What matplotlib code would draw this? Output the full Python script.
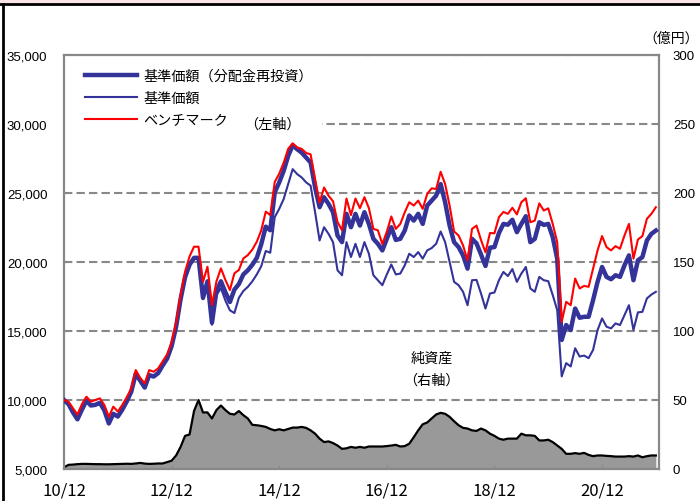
import matplotlib
matplotlib.use("Agg")
import matplotlib.pyplot as plt
from matplotlib.lines import Line2D
from matplotlib.patches import Rectangle
import numpy as np

plt.rcParams['font.family'] = ['Liberation Sans', 'Noto Sans CJK JP']

# monthly data, 2010/12 - 2021/12
xtick_pos = [0, 24, 48, 72, 96, 120]
xtick_labels = ['10/12', '12/12', '14/12', '16/12', '18/12', '20/12']

nav_reinvest = [
    10000, 9700, 9100, 8600, 9300, 9950, 9600, 9650, 9800, 9250,
    8300, 9000, 8800, 9300, 9900, 10600, 11900, 11400, 10900, 11800,
    11700, 11950, 12500, 13000, 13900, 15300, 17300, 18900, 19800, 20300,
    20300, 17400, 18600, 15600, 17900, 18600, 17800, 17100, 18000, 18400,
    19100, 19400, 19800, 20300, 21300, 22560, 22300, 25050, 25770, 26610,
    27690, 28460, 28170, 27930, 27570, 27210, 25410, 23970, 24690, 24210,
    23610, 21920, 21440, 23490, 22520, 23490, 22640, 23610, 22760, 21680,
    21320, 20840, 21680, 22520, 21600, 21680, 22280, 23370, 23000, 23490,
    22760, 24090, 24450, 24810, 25650, 24330, 22640, 21440, 21080, 20480,
    19520, 21680, 21350, 20550, 19710, 21040, 21080, 22100, 22760, 22700,
    23060, 22160, 22760, 23320, 21440, 21680, 22880, 22690, 22760, 21800,
    20240, 14350, 15430, 15070, 16630, 15960, 16030, 16030, 17240, 18560,
    19640, 18920, 18750, 19040, 18920, 19760, 20480, 18680, 20120, 20360,
    21560, 22040, 22280,
]

nav = [
    10000, 9700, 9100, 8600, 9300, 9950, 9600, 9650, 9800, 9250,
    8300, 9000, 8800, 9300, 9900, 10600, 11900, 11400, 10900, 11800,
    11700, 11950, 12500, 13000, 13900, 15300, 17300, 18900, 19800, 20250,
    20200, 17300, 18450, 15450, 17600, 18100, 17200, 16500, 16300, 17400,
    17900, 18200, 18600, 19100, 19700, 20800, 20670, 23250, 23850, 24570,
    25650, 26730, 26370, 26130, 25770, 25530, 23610, 21560, 22520, 22040,
    21440, 19400, 19040, 21440, 20360, 21320, 20360, 21440, 20600, 19040,
    18680, 18320, 19100, 19820, 19100, 19160, 19760, 20600, 20360, 20720,
    20240, 20840, 21010, 21320, 22210, 21440, 20000, 18560, 18320, 17840,
    16870, 18680, 18700, 17720, 16630, 17720, 17790, 18680, 19280, 18980,
    19490, 18560, 19160, 19640, 18080, 17840, 18920, 18680, 18610, 17600,
    16510, 11710, 12670, 12430, 13750, 13150, 13220, 13030, 13630, 15070,
    15910, 15310, 15190, 15550, 15430, 16150, 16870, 15070, 16350, 16390,
    17360, 17640, 17840,
]

benchmark = [
    10000, 9880, 9400, 8950, 9700, 10240, 9880, 10000, 10120, 9640,
    8790, 9520, 9160, 9640, 10200, 10840, 12170, 11600, 11200, 12170,
    12050, 12290, 12800, 13300, 14200, 15600, 17600, 19300, 20400, 21110,
    21110, 18570, 19660, 16880, 18600, 19540, 18700, 17970, 19180, 19420,
    20260, 20500, 20900, 21470, 22300, 23650, 23400, 25800, 26400, 27200,
    28200, 28600, 28300, 28200, 27900, 27800, 26000, 24300, 25400, 24800,
    24400, 22900, 22300, 24600, 23400, 24600, 23900, 24700, 23900, 22400,
    22300, 21300, 22200, 23300, 22400, 22760, 23600, 24330, 24090, 24450,
    23850, 24930, 25340, 25290, 26540, 25650, 24090, 22210, 21920, 21200,
    20120, 22400, 22640, 21600, 20700, 22100, 22080, 23250, 23630, 23490,
    23930, 23450, 24330, 24620, 22880, 23000, 24250, 23730, 23890, 22760,
    21440, 15670, 17110, 16870, 18800, 18080, 18270, 18200, 19520, 20840,
    21880, 21080, 20840, 21150, 20960, 21920, 22760, 20240, 21630, 21880,
    23130, 23490, 23970,
]

# 純資産 (億円)
net_assets = [
    1.2, 3.0, 3.2, 3.5, 3.7, 3.7, 3.6, 3.5, 3.5, 3.4,
    3.4, 3.5, 3.6, 3.7, 3.8, 3.7, 4.0, 4.4, 3.9, 3.7,
    3.8, 4.0, 4.0, 5.0, 6.0, 9.8, 16, 24, 25, 42,
    50, 41, 41, 36.6, 42.7, 46, 42.7, 40, 39.5, 42,
    39, 36.6, 32, 31.7, 31.2, 30.5, 29, 28, 28.8, 28,
    29, 30, 30, 30.5, 29.8, 28, 25.6, 22, 19.5, 20,
    18.8, 17, 14.6, 15, 16, 15.4, 16, 15.4, 16.3, 16.3,
    16.3, 16.3, 16.6, 17, 17.5, 16.3, 16.6, 18.3, 23, 28,
    32.4, 33.7, 36.6, 39.5, 40.7, 40, 37.8, 34.6, 31.7, 29.8,
    29.3, 28, 27.6, 29.3, 28, 25.6, 24, 22, 21.2, 22,
    22, 22, 25.6, 24.4, 24.4, 24, 20.7, 20.7, 21.2, 19.5,
    17, 14.6, 11, 11, 11.5, 11, 11.7, 10.2, 9.3, 9.8,
    9.8, 9.5, 9.3, 9, 9, 9, 9.3, 9, 9.8, 8.5,
    9.3, 9.8, 9.8,
]

months = np.arange(len(nav_reinvest))
grey = '#888888'
blue = '#333399'

fig = plt.figure(figsize=(7, 5.02), dpi=100)
ax = fig.add_axes([64/700, 1-470/502, (659-64)/700, (470-56)/502])
ax2 = ax.twinx()

ax2.fill_between(months, net_assets, 0, color='#999999', lw=0)
ax2.plot(months, net_assets, color='black', lw=1.6)
ax2.set_ylim(0, 300)
ax2.set_yticks(range(0, 301, 50))
ax2.tick_params(axis='y', direction='in', length=0, pad=10, labelsize=9.5)
for s in ax2.spines.values():
    s.set_visible(False)

ax.set_zorder(ax2.get_zorder() + 1)
ax.patch.set_visible(False)

ax.plot(months, nav_reinvest, color=blue, lw=3.2, label='基準価額（分配金再投資）', zorder=3)
ax.plot(months, nav, color=blue, lw=1.5, label='基準価額', zorder=4)
ax.plot(months, benchmark, color='#FF0000', lw=1.5, label='ベンチマーク', zorder=5)

ax.set_xlim(0, 132.7)
ax.set_ylim(5000, 35000)
ax.set_yticks(range(5000, 35001, 5000))
ax.set_yticklabels([f"{v:,}" for v in range(5000, 35001, 5000)])
ax.set_xticks(xtick_pos)
ax.set_xticklabels(xtick_labels, fontsize=12, family=['Noto Sans CJK JP'])
ax.tick_params(axis='y', direction='in', length=3, pad=12, labelsize=9.5, color=grey)
ax.tick_params(axis='x', direction='in', length=3, pad=9, color=grey)
ax.set_axisbelow(True)
ax.yaxis.grid(True, color=grey, lw=1.5, linestyle=(0, (4, 2)))
for s in ax.spines.values():
    s.set_color(grey)
    s.set_linewidth(1.6)

# white box behind the legend
ax.add_patch(Rectangle((0, 0.80), 0.434, 0.2, transform=ax.transAxes,
                       facecolor='white', edgecolor='none', zorder=1))
ax.legend(loc='upper left', bbox_to_anchor=(0.035, 0.966), frameon=False,
          fontsize=10.2, handlelength=3.7, handletextpad=0.45,
          labelspacing=0.55, borderpad=0, borderaxespad=0)

ax.text(46.5, 30000, '（左軸）', ha='center', va='center', fontsize=10.2, zorder=6)
ax.text(82, 13100, '純資産', ha='center', va='center', fontsize=10.2)
ax.text(82, 11450, '（右軸）', ha='center', va='center', fontsize=10.2)
fig.text(699/700, 1-39/502, '（億円）', ha='right', va='center', fontsize=10)

# page frame
fig.patches.append(Rectangle((0, 1-4/502), 1, 4/502, transform=fig.transFigure,
                             facecolor='#FDE4E4', edgecolor='none'))
fig.lines.append(Line2D([0, 1], [1-5/502, 1-5/502], transform=fig.transFigure,
                        color='black', lw=2))
fig.lines.append(Line2D([2.5/700, 2.5/700], [0, 1-5/502], transform=fig.transFigure,
                        color='black', lw=2))

fig.savefig('out.png', dpi=100)
